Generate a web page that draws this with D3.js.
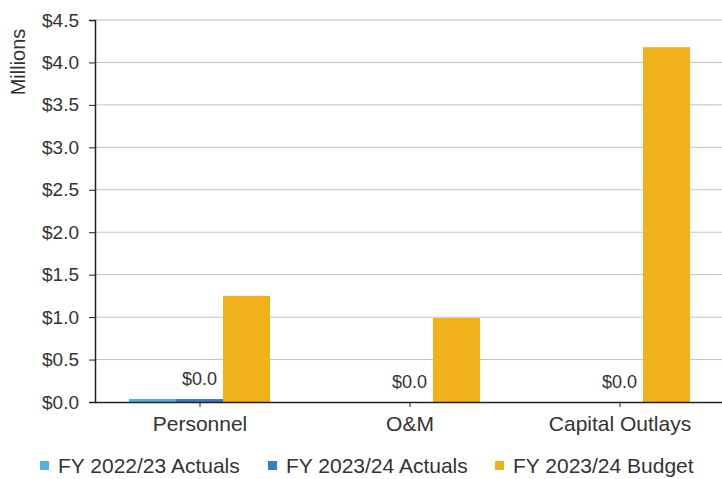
<!DOCTYPE html>
<html>
<head>
<meta charset="utf-8">
<script src="https://cdn.jsdelivr.net/npm/d3@7"></script>
<style>
  body { margin: 0; background: #fff; }
  text { font-family: "Liberation Sans", Arial, sans-serif; fill: #333; }
</style>
</head>
<body>
<script>
// chart data
const categories = ['Personnel', 'O&M', 'Capital Outlays'];
const seriesNames = ['FY 2022/23 Actuals', 'FY 2023/24 Actuals', 'FY 2023/24 Budget'];
const actuals2223 = [0.035, 0, 0];
const actuals2324 = [0.035, 0, 0];
const budget2324 = [1.25, 0.99, 4.18];
const yTicks = [0, 0.5, 1, 1.5, 2, 2.5, 3, 3.5, 4, 4.5];
const colors = ['#4cb4e2', '#3b7cc4', '#f1b11a'];

const W = 722, H = 479;
const margin = { left: 95, right: -3, top: 20, bottom: 77 };
const innerW = W - margin.left - margin.right;
const innerH = H - margin.top - margin.bottom;

const svg = d3.select('body').append('svg')
    .attr('width', W)
    .attr('height', H);

const g = svg.append('g')
    .attr('transform', `translate(${margin.left},${margin.top})`);

const x = d3.scaleBand().domain(categories).range([0, innerW]).paddingInner(0).paddingOuter(0);
const xSub = d3.scaleBand().domain(seriesNames).range([34, 175]);
const y = d3.scaleLinear().domain([0, 4.5]).range([innerH, 0]);

// gridlines
g.selectAll('line.grid')
    .data(yTicks.filter(d => d > 0))
    .enter().append('line')
    .attr('class', 'grid')
    .attr('x1', 0).attr('x2', innerW)
    .attr('y1', d => y(d)).attr('y2', d => y(d))
    .attr('stroke', '#c4c4bc')
    .attr('stroke-width', 1);

const rows = categories.map((c, i) => ({
    cat: c,
    vals: [actuals2223[i], actuals2324[i], budget2324[i]]
}));

const groups = g.selectAll('g.cat')
    .data(rows)
    .enter().append('g')
    .attr('class', 'cat')
    .attr('transform', d => `translate(${x(d.cat)},0)`);

groups.selectAll('rect')
    .data(d => d.vals.map((v, j) => ({ name: seriesNames[j], v: v, j: j })))
    .enter().append('rect')
    .attr('x', d => xSub(d.name))
    .attr('width', xSub.bandwidth())
    .attr('y', d => y(d.v))
    .attr('height', d => innerH - y(d.v))
    .attr('fill', d => colors[d.j]);

// data labels for FY 2023/24 Actuals
groups.append('text')
    .attr('x', xSub(seriesNames[1]) + xSub.bandwidth() / 2)
    .attr('y', d => y(d.vals[1]) - 14)
    .attr('text-anchor', 'middle')
    .attr('font-size', 18)
    .text(d => '$' + d.vals[1].toFixed(1));

// axes
const yAxis = d3.axisLeft(y).tickValues(yTicks)
    .tickFormat(d => '$' + d3.format('.1f')(d))
    .tickSize(6).tickPadding(10);
const yG = g.append('g').call(yAxis);
yG.select('.domain').attr('stroke', '#222').attr('stroke-width', 1.5);
yG.selectAll('.tick line').attr('stroke', '#222');
yG.selectAll('.tick text').attr('font-size', 19).attr('fill', '#333');

const xAxis = d3.axisBottom(x).tickSize(5).tickPadding(9).tickSizeOuter(0);
const xG = g.append('g').attr('transform', `translate(0,${innerH})`).call(xAxis);
xG.select('.domain').attr('stroke', '#222').attr('stroke-width', 1.5);
xG.selectAll('.tick line').attr('stroke', '#222');
xG.selectAll('.tick text').attr('font-size', 21).attr('fill', '#333');

// y axis title
svg.append('text')
    .attr('transform', 'translate(25,62) rotate(-90)')
    .attr('text-anchor', 'middle')
    .attr('font-size', 20)
    .text('Millions');

// legend
const legendX = [40, 268, 495];
const legend = svg.selectAll('g.legend')
    .data(seriesNames)
    .enter().append('g')
    .attr('class', 'legend')
    .attr('transform', (d, i) => `translate(${legendX[i]},466)`);
legend.append('rect')
    .attr('x', 0).attr('y', -5)
    .attr('width', 9).attr('height', 9)
    .attr('fill', (d, i) => colors[i]);
legend.append('text')
    .attr('x', 18).attr('y', 7)
    .attr('font-size', 21)
    .text(d => d);
</script>
</body>
</html>
